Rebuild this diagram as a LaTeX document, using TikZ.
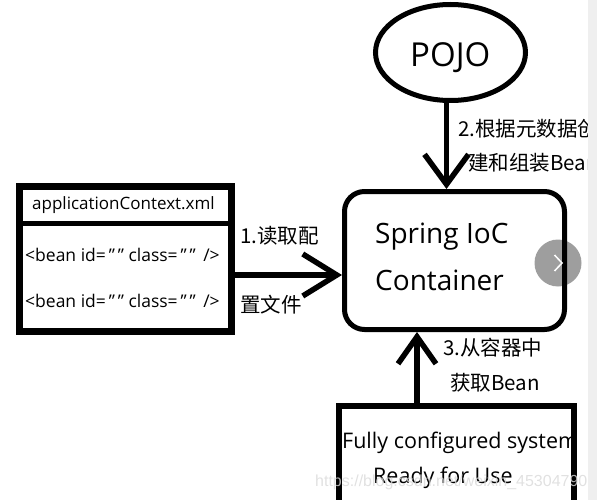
\documentclass[tikz,border=0pt]{standalone}
\usepackage{fontspec}
\setmainfont{Open Sans}
\newfontfamily\cjk{Noto Sans CJK SC}
\newfontfamily\wmfont{Liberation Sans}
\usetikzlibrary{arrows.meta,shapes.geometric}
\definecolor{stripgray}{HTML}{EFEFEF}
\newcommand{\sq}{\symbol{34}}
\tikzset{
  txt/.style={inner sep=0pt, anchor=base west},
  small/.style={txt, font=\fontsize{17.5}{20}\selectfont},
  lbl/.style={txt, font=\cjk\fontsize{20.5}{24}\selectfont},
  big/.style={txt, font=\fontsize{28}{34}\selectfont},
  mid/.style={txt, font=\fontsize{21.5}{26}\selectfont},
  thickarrow/.style={line width=5.5pt},
}
\begin{document}
\begin{tikzpicture}[x=1pt,y=-1pt]
\useasboundingbox (0,0) rectangle (597,500);
% POJO
\node[ellipse, draw, line width=5pt, minimum width=150pt, minimum height=96pt, inner sep=0pt] (pojo) at (450.5,52.5) {};
\node[txt, font=\fontsize{33}{40}\selectfont] (pojot) at (410,67) {POJO};
% container
\node[draw, line width=5pt, rounded corners=20pt, minimum width=220pt, minimum height=138pt, inner sep=0pt] (ioc) at (454.5,260.5) {};
\node[big] (ioct1) at (375,243) {Spring IoC};
\node[big] (ioct2) at (375,290) {Container};
% xml box
\node[draw, line width=6.5pt, minimum width=212pt, minimum height=145pt, inner sep=0pt] (xml) at (125.5,259) {};
\coordinate (sep) at (0,223.5);
\draw[line width=4.5pt] (xml.west |- sep) -- (xml.east |- sep);
\node[txt, font=\fontsize{17}{20}\selectfont] (xmlh) at (32,209) {applicationContext.xml};
\node[small] (bean1) at (25,261) {<bean id=\,\sq\,\sq\ class=\,\sq\,\sq\ \,/>};
\node[small] (bean2) at (25,307) {<bean id=\,\sq\,\sq\ class=\,\sq\,\sq\ \,/>};
% bottom box
\node[mid] (sys1) at (342,448) {Fully configured system};
\node[mid] (sys2) at (373,483) {Ready for Use};
\node[draw, line width=6pt, minimum width=234.5pt, minimum height=130pt, inner sep=0pt] (sys) at (456.25,471) {};
% arrows
\coordinate (a1) at (0,275);
\draw[thickarrow, -{Straight Barb[length=34pt,width=42pt]}] (a1 -| xml.east) -- (a1 -| ioc.west);
\coordinate (a2) at (446.5,0);
\draw[thickarrow, -{Straight Barb[length=30pt,width=44pt]}] (a2 |- pojo.south) -- (a2 |- ioc.north);
\coordinate (a3) at (417,0);
\draw[thickarrow, -{Straight Barb[length=27pt,width=38pt]}] (a3 |- sys.north) -- (a3 |- ioc.south);
% labels
\node[lbl] (l1a) at (240,243) {1.读取配};
\node[lbl] (l1b) at (240,312) {置文件};
\node[lbl] (l2a) at (458,136) {2.根据元数据创};
\node[lbl] (l2b) at (468,170) {建和组装Bean};
\node[lbl] (l3a) at (443,355) {3.从容器中};
\node[lbl] (l3b) at (450,390) {获取Bean};
% right strip
\fill[stripgray] (588,0) rectangle (597,500);
% overlay button
\node[circle, fill=black, fill opacity=0.38, minimum size=47pt, inner sep=0pt] (btn) at (558,263) {};
\draw[white, line width=1.5pt] ([shift={(-3.5,-8)}]btn.center) -- ([shift={(4,0)}]btn.center) -- ([shift={(-3.5,8)}]btn.center);
% watermark
\node[txt, font=\wmfont\fontsize{16}{19}\selectfont, text=black!15, text opacity=0.8] (wm) at (315,486) {https://blog.csdn.net/weixin\_45304790};
\end{tikzpicture}
\end{document}
